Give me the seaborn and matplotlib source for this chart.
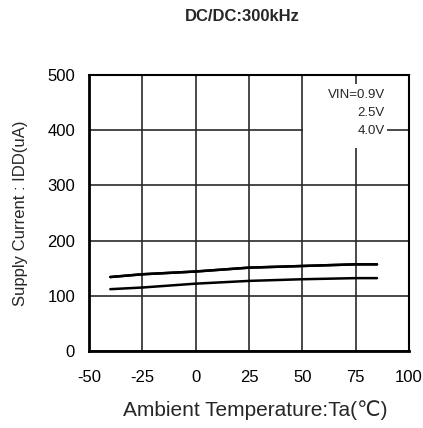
import numpy as np
import pandas as pd
import matplotlib
matplotlib.use("Agg")
import matplotlib.pyplot as plt
import seaborn as sns
from matplotlib.patches import Rectangle

# Data
temperature = [-40, -25, 0, 25, 50, 75, 85]
idd_vin_09 = [112, 115, 122, 127, 130, 132, 132]
idd_vin_25 = [134, 139, 144, 151, 154, 157, 157]
idd_vin_40 = [134, 139, 144, 151, 154, 157, 157]
legend_labels = ["VIN=0.9V", "2.5V", "4.0V"]

x_ticks = [-50, -25, 0, 25, 50, 75, 100]
y_ticks = [0, 100, 200, 300, 400, 500]

sns.set_style("white")
plt.rcParams["font.family"] = ["Liberation Sans", "DejaVu Sans"]
plt.rcParams["axes.unicode_minus"] = False

fig = plt.figure(figsize=(4.23, 4.28), dpi=100)
ax = fig.add_axes([0.2104, 0.1799, 0.7565, 0.6449])

# Build a long table for seaborn
df = pd.DataFrame({
    "Ta": temperature * 3,
    "IDD": idd_vin_09 + idd_vin_25 + idd_vin_40,
    "VIN": ["0.9V"] * 7 + ["2.5V"] * 7 + ["4.0V"] * 7,
})
sns.lineplot(data=df, x="Ta", y="IDD", hue="VIN", units="VIN", estimator=None,
             palette=["black", "black", "black"], linewidth=1.8, legend=False,
             ax=ax, zorder=3)

ax.set_xlim(-50, 100)
ax.set_ylim(0, 500)
ax.set_xticks(x_ticks)
ax.set_yticks(y_ticks)
ax.tick_params(axis="x", length=0, labelsize=12, pad=14, colors="black")
ax.tick_params(axis="y", length=0, labelsize=12, pad=10, colors="black")
ax.grid(True, color="#2a2a2a", linewidth=1.2)
ax.set_axisbelow(True)

for side, spine in ax.spines.items():
    spine.set_visible(True)
    spine.set_color("black")
    spine.set_linewidth(2.0 if side in ("left", "bottom") else 1.5)
    spine.set_zorder(4)

ax.set_xlabel("Ambient Temperature:Ta(\u2103)", fontsize=15)
ax.xaxis.label.set_va("center")
ax.xaxis.set_label_coords(0.519, -0.214)
ax.set_ylabel("Supply Current : IDD(uA)", fontsize=12, labelpad=14)

# Legend-like text block on white background
ax.add_patch(Rectangle((0.67, 0.735), 0.26, 0.232, transform=ax.transAxes,
                       facecolor="white", edgecolor="none", zorder=1))
for label, ypos in zip(legend_labels, [0.9275, 0.862, 0.797]):
    ax.text(0.925, ypos, label, transform=ax.transAxes, ha="right", va="center",
            fontsize=9.5, zorder=5)

fig.text(0.572, 0.962, "DC/DC:300kHz", ha="center", va="center",
         fontsize=12, fontweight="bold")

fig.savefig("out.png", dpi=100)
